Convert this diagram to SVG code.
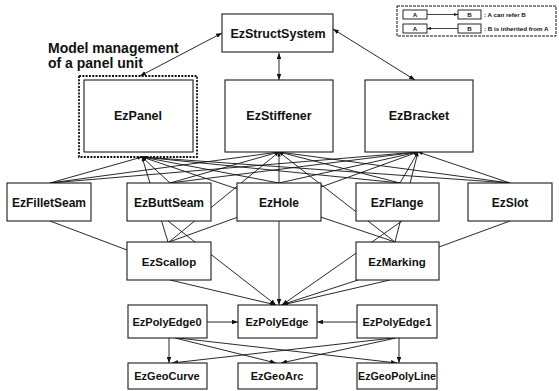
<svg xmlns="http://www.w3.org/2000/svg" width="559" height="391" viewBox="0 0 559 391">
<style>
.box{fill:#fff;stroke:#1a1a1a;stroke-width:1.1}
.lbl{font-family:"Liberation Sans",Arial,sans-serif;font-weight:bold;fill:#111;text-anchor:middle}
.t1{font-size:12.5px}
.t2{font-size:12px}
.t3{font-size:11.5px}
.t4{font-size:11px}
.c line{stroke:#111;stroke-width:0.9;fill:none}
.fan{marker-start:url(#ahf)}
.to{marker-end:url(#ah)}
.both{marker-start:url(#ah);marker-end:url(#ah)}
.lg{font-family:"Liberation Sans",Arial,sans-serif;font-weight:bold;font-size:6.2px;fill:#111}
.lgb{fill:#fff;stroke:#111;stroke-width:0.9}
.note{font-family:"Liberation Sans",Arial,sans-serif;font-weight:bold;font-size:14px;fill:#111}
</style>
<defs>
<marker id="ah" viewBox="0 0 8 6" refX="8" refY="3" markerWidth="6" markerHeight="5" markerUnits="userSpaceOnUse" orient="auto-start-reverse"><path d="M0,0 L8,3 L0,6 z" fill="#111"/></marker>
<marker id="ahf" viewBox="0 0 8 6" refX="8" refY="3" markerWidth="4.5" markerHeight="3.5" markerUnits="userSpaceOnUse" orient="auto-start-reverse"><path d="M0,0 L8,3 L0,6 z" fill="#111"/></marker>
<marker id="ahs" viewBox="0 0 8 6" refX="8" refY="3" markerWidth="4" markerHeight="3" markerUnits="userSpaceOnUse" orient="auto"><path d="M0,0 L8,3 L0,6 z" fill="#111"/></marker>
</defs>

<g id="connectors" class="c">
  <line class="both" x1="140" y1="76" x2="222" y2="33"/>
  <line class="both" x1="279" y1="53" x2="279" y2="80"/>
  <line class="both" x1="415" y1="80" x2="333" y2="29"/>
  <!-- from EzPanel -->
  <line class="fan" x1="142" y1="157" x2="50" y2="183"/>
  <line class="fan" x1="142" y1="157" x2="170" y2="183"/>
  <line class="fan" x1="142" y1="157" x2="279" y2="183"/>
  <line class="fan" x1="142" y1="157" x2="400" y2="183"/>
  <line class="fan" x1="142" y1="157" x2="510" y2="183"/>
  <line class="fan" x1="142" y1="157" x2="168" y2="242"/>
  <line class="fan" x1="142" y1="157" x2="395" y2="242"/>
  <!-- from EzStiffener -->
  <line class="fan" x1="279" y1="152" x2="50" y2="183"/>
  <line class="fan" x1="279" y1="152" x2="170" y2="183"/>
  <line class="fan" x1="279" y1="152" x2="279" y2="183"/>
  <line class="fan" x1="279" y1="152" x2="400" y2="183"/>
  <line class="fan" x1="279" y1="152" x2="510" y2="183"/>
  <line class="fan" x1="279" y1="152" x2="169" y2="242"/>
  <line class="fan" x1="279" y1="152" x2="395" y2="242"/>
  <!-- from EzBracket -->
  <line class="fan" x1="418" y1="152" x2="50" y2="183"/>
  <line class="fan" x1="418" y1="152" x2="170" y2="183"/>
  <line class="fan" x1="418" y1="152" x2="279" y2="183"/>
  <line class="fan" x1="418" y1="152" x2="400" y2="183"/>
  <line class="fan" x1="418" y1="152" x2="510" y2="183"/>
  <line class="fan" x1="418" y1="152" x2="169" y2="242"/>
  <line class="fan" x1="418" y1="152" x2="395" y2="242"/>
  <!-- second level -->
  <line x1="50" y1="221" x2="127" y2="250"/>
  <line x1="510" y1="221" x2="439" y2="247"/>
  <line class="to" x1="279" y1="221" x2="279" y2="305"/>
  <line class="to" x1="168" y1="221" x2="276" y2="305"/>
  <line class="to" x1="402" y1="221" x2="282" y2="305"/>
  <line class="to" x1="170" y1="280" x2="276" y2="305"/>
  <line class="to" x1="358" y1="280" x2="281" y2="305"/>
  <line class="to" x1="390" y1="280" x2="282" y2="305"/>
  <!-- inheritance -->
  <line class="to" x1="207" y1="322" x2="238" y2="322"/>
  <line class="to" x1="357" y1="322" x2="317" y2="322"/>
  <!-- geometry -->
  <line class="to" x1="169" y1="338" x2="169" y2="363"/>
  <line class="to" x1="175" y1="338" x2="276" y2="363"/>
  <line class="to" x1="178" y1="338" x2="397" y2="363"/>
  <line class="to" x1="399" y1="338" x2="399" y2="363"/>
  <line class="to" x1="396" y1="338" x2="281" y2="363"/>
  <line class="to" x1="393" y1="338" x2="172" y2="363"/>
</g>

<g id="note"><text class="note" x="48" y="53">Model management</text><text class="note" x="48" y="68">of a panel unit</text></g>

<g id="EzStructSystem"><rect class="box" x="222" y="14" width="111" height="38"/><text class="lbl t1" x="278" y="38">EzStructSystem</text></g>
<g id="EzPanel"><rect x="79" y="76" width="118" height="81" fill="none" stroke="#111" stroke-width="1.8" stroke-dasharray="2,1.3"/><rect class="box" x="84" y="80" width="109" height="72"/><text class="lbl t1" x="138" y="120">EzPanel</text></g>
<g id="EzStiffener"><rect class="box" x="225" y="80" width="108" height="72"/><text class="lbl t1" x="279" y="120">EzStiffener</text></g>
<g id="EzBracket"><rect class="box" x="365" y="80" width="108" height="72"/><text class="lbl t1" x="419" y="120">EzBracket</text></g>

<g id="EzFilletSeam"><rect class="box" x="7" y="183" width="84" height="38"/><text class="lbl t2" x="49" y="207">EzFilletSeam</text></g>
<g id="EzButtSeam"><rect class="box" x="127" y="183" width="84" height="38"/><text class="lbl t2" x="169" y="207">EzButtSeam</text></g>
<g id="EzHole"><rect class="box" x="237" y="183" width="84" height="38"/><text class="lbl t2" x="279" y="207">EzHole</text></g>
<g id="EzFlange"><rect class="box" x="356" y="183" width="83" height="38"/><text class="lbl t2" x="397" y="207">EzFlange</text></g>
<g id="EzSlot"><rect class="box" x="468" y="183" width="84" height="38"/><text class="lbl t2" x="510" y="207">EzSlot</text></g>

<g id="EzScallop"><rect class="box" x="127" y="242" width="84" height="38"/><text class="lbl t3" x="169" y="266">EzScallop</text></g>
<g id="EzMarking"><rect class="box" x="356" y="242" width="83" height="38"/><text class="lbl t3" x="397" y="266">EzMarking</text></g>

<g id="EzPolyEdge0"><rect class="box" x="128" y="305" width="79" height="33"/><text class="lbl t4" x="167" y="326">EzPolyEdge0</text></g>
<g id="EzPolyEdge"><rect class="box" x="238" y="305" width="79" height="33"/><text class="lbl t4" x="277" y="326">EzPolyEdge</text></g>
<g id="EzPolyEdge1"><rect class="box" x="357" y="305" width="80" height="33"/><text class="lbl t4" x="397" y="326">EzPolyEdge1</text></g>

<g id="EzGeoCurve"><rect class="box" x="128" y="363" width="79" height="26"/><text class="lbl t4" x="167" y="380">EzGeoCurve</text></g>
<g id="EzGeoArc"><rect class="box" x="238" y="363" width="79" height="26"/><text class="lbl t4" x="277" y="380">EzGeoArc</text></g>
<g id="EzGeoPolyLine"><rect class="box" x="357" y="363" width="80" height="26"/><text class="lbl t4" x="397" y="380" textLength="78" lengthAdjust="spacingAndGlyphs">EzGeoPolyLine</text></g>

<g id="legend">
  <rect x="397" y="6" width="159" height="30" fill="#fff" stroke="#111" stroke-width="1" stroke-dasharray="3,1"/>
  <rect class="lgb" x="403" y="10" width="24" height="9"/><text class="lg" x="415" y="17" text-anchor="middle">A</text>
  <rect class="lgb" x="458" y="10" width="23" height="9"/><text class="lg" x="469.5" y="17" text-anchor="middle">B</text>
  <line x1="427" y1="14.5" x2="458" y2="14.5" stroke="#111" stroke-width="0.8" marker-end="url(#ahs)"/>
  <text class="lg" x="484" y="17">: A can refer B</text>
  <rect class="lgb" x="403" y="24" width="24" height="9"/><text class="lg" x="415" y="31" text-anchor="middle">A</text>
  <rect class="lgb" x="458" y="24" width="23" height="9"/><text class="lg" x="469.5" y="31" text-anchor="middle">B</text>
  <line x1="458" y1="28.5" x2="427" y2="28.5" stroke="#111" stroke-width="0.8" marker-end="url(#ahs)"/>
  <text class="lg" x="484" y="31">: B is inherited from A</text>
</g>
</svg>
